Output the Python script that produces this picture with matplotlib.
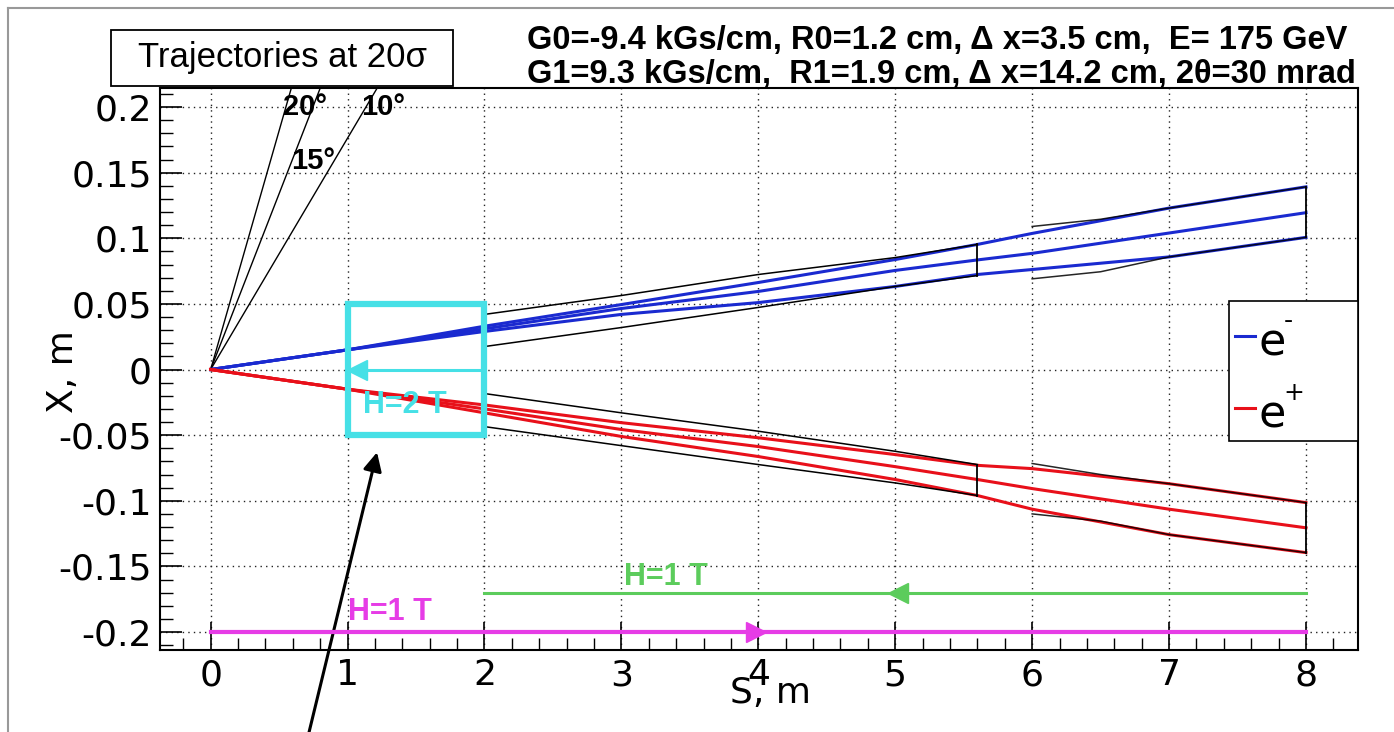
import numpy as np
import matplotlib.pyplot as plt
from matplotlib.patches import Rectangle
from matplotlib.lines import Line2D
from matplotlib.ticker import MultipleLocator

W, H = 1394, 732

# trajectories (S in m, X in m)
s_traj = [0, 1, 2, 3, 4, 5, 5.6, 6, 7, 8]
em_top = [0, 0.015, 0.033, 0.0495, 0.0663, 0.0838, 0.0953, 0.1037, 0.123, 0.1392]
em_mid = [0, 0.015, 0.031, 0.0465, 0.0595, 0.0755, 0.0835, 0.0885, 0.104, 0.1195]
em_bot = [0, 0.015, 0.029, 0.042, 0.051, 0.0633, 0.0724, 0.0762, 0.0858, 0.1007]
ep_top = [0, -0.015, -0.027, -0.0405, -0.052, -0.0648, -0.073, -0.0755, -0.087, -0.1014]
ep_mid = [0, -0.015, -0.030, -0.0457, -0.0587, -0.074, -0.0838, -0.0907, -0.1064, -0.1206]
ep_bot = [0, -0.015, -0.033, -0.051, -0.0663, -0.0838, -0.096, -0.1064, -0.1258, -0.1395]

# aperture envelopes (black)
env_s1 = [2, 3, 4, 5, 5.6]
env_s2 = [6, 6.5, 7, 8]
em_env1_hi = [0.042, 0.0564, 0.0724, 0.0853, 0.0953]
em_env1_lo = [0.0175, 0.032, 0.0473, 0.0633, 0.0716]
em_env2_hi = [0.109, 0.1145, 0.123, 0.1392]
em_env2_lo = [0.0691, 0.0745, 0.0858, 0.1007]
ep_env1_hi = [-0.0183, -0.033, -0.047, -0.0623, -0.0724]
ep_env1_lo = [-0.0435, -0.058, -0.0724, -0.0864, -0.096]
ep_env2_hi = [-0.0716, -0.080, -0.087, -0.1014]
ep_env2_lo = [-0.110, -0.1155, -0.1258, -0.1395]

angles = [20, 15, 10]
angle_labels = ["20°", "15°", "10°"]

# field regions
h2_s = [1, 2]
h2_x = [-0.05, 0.05]
h1_green_s = [2, 8]
h1_green_x = -0.17
h1_mag_s = [0, 8]
h1_mag_x = -0.2

xticks = [0, 1, 2, 3, 4, 5, 6, 7, 8]
yticks = [-0.2, -0.15, -0.1, -0.05, 0, 0.05, 0.1, 0.15, 0.2]
ytick_labels = ["-0.2", "-0.15", "-0.1", "-0.05", "0", "0.05", "0.1", "0.15", "0.2"]

blue = "#1a2ad0"
red = "#e8101a"
cyan = "#46e0e6"
green = "#5ccc5c"
magenta = "#e63ce6"

fig = plt.figure(figsize=(W / 100, H / 100), dpi=100)
ax = fig.add_axes([160 / W, 1 - 650 / H, 1198 / W, 562 / H])
ax.set_xlim(-0.37, 8.38)
ax.set_ylim(-0.2137, 0.2145)

tick_font = "DejaVu Sans"
ax.set_xticks(xticks)
ax.set_xticklabels([str(t) for t in xticks], fontsize=26, family=tick_font)
ax.set_yticks(yticks)
ax.set_yticklabels(ytick_labels, fontsize=26, family=tick_font)
ax.xaxis.set_minor_locator(MultipleLocator(0.2))
ax.yaxis.set_minor_locator(MultipleLocator(0.01))
ax.tick_params(axis="x", which="major", length=20)
ax.tick_params(axis="y", which="major", length=16)
ax.tick_params(which="major", direction="in", width=1.2, top=False, right=False, pad=6)
ax.tick_params(which="minor", direction="in", length=9, width=1.0, top=False, right=False)
for sp in ax.spines.values():
    sp.set_linewidth(1.5)
ax.grid(True, which="major", ls=(0, (1, 3)), color="#222222", lw=1.0)

# angle lines
for a in angles:
    xs = np.array([0, 1.5])
    ax.plot(xs, np.tan(np.radians(a)) * xs, color="k", lw=1.0, zorder=3)
lab_font = dict(fontsize=21, weight="bold", ha="left", va="center", family="Liberation Sans")
ax.text(0.53, 0.2, angle_labels[0], **lab_font)
ax.text(0.59, 0.1585, angle_labels[1], **lab_font)
ax.text(1.10, 0.2, angle_labels[2], **lab_font)

# trajectories
for y in (em_top, em_mid, em_bot):
    ax.plot(s_traj, y, color=blue, lw=2.2, zorder=4)
for y in (ep_top, ep_mid, ep_bot):
    ax.plot(s_traj, y, color=red, lw=2.2, zorder=4)

# envelopes
for hi, lo in ((em_env1_hi, em_env1_lo), (ep_env1_hi, ep_env1_lo)):
    ax.plot(env_s1, hi, color="k", lw=1.1, zorder=5)
    ax.plot(env_s1, lo, color="k", lw=1.1, zorder=5)
    ax.plot([env_s1[-1]] * 2, [hi[-1], lo[-1]], color="k", lw=1.3, zorder=5)
for hi, lo in ((em_env2_hi, em_env2_lo), (ep_env2_hi, ep_env2_lo)):
    ax.plot(env_s2, hi, color="k", lw=1.1, zorder=5, alpha=0.85)
    ax.plot(env_s2, lo, color="k", lw=1.1, zorder=5, alpha=0.85)
    ax.plot([env_s2[-1]] * 2, [hi[-1], lo[-1]], color="k", lw=1.3, zorder=5)

# H=2 T region
ax.add_patch(Rectangle((h2_s[0], h2_x[0]), h2_s[1] - h2_s[0], h2_x[1] - h2_x[0],
                       fill=False, ec=cyan, lw=4.5, zorder=6))
ax.plot(h2_s, [0, 0], color=cyan, lw=2.2, zorder=6)
ax.plot([1.07], [0], marker="<", ms=14, color=cyan, zorder=6)
field_font = dict(fontsize=22, weight="bold", ha="left", va="center", family="Liberation Sans", zorder=7)
ax.text(1.11, -0.027, "H=2 T", color=cyan, **field_font)

# H=1 T regions
ax.plot(h1_green_s, [h1_green_x] * 2, color=green, lw=2.2, zorder=6)
ax.plot([5.02], [h1_green_x], marker="<", ms=14, color=green, zorder=6)
ax.text(3.02, -0.158, "H=1 T", color=green, **field_font)
ax.plot(h1_mag_s, [h1_mag_x] * 2, color=magenta, lw=3.0, zorder=6)
ax.plot([3.98], [h1_mag_x], marker=">", ms=14, color=magenta, zorder=6)
ax.text(1.0, -0.185, "H=1 T", color=magenta, **field_font)

# pointer arrow
ax.annotate("", xy=(1.22, -0.061), xytext=(0.71, -0.28),
            arrowprops=dict(arrowstyle="-|>", color="k", lw=2.2, mutation_scale=28),
            annotation_clip=False)

# legend box
ax.add_patch(Rectangle((0.892, 0.372), 0.108, 0.249, transform=ax.transAxes,
                       fc="white", ec="k", lw=1.2, zorder=8))
ax.plot([0.897, 0.914], [0.559, 0.559], color=blue, lw=2.2, transform=ax.transAxes, zorder=9)
ax.plot([0.897, 0.914], [0.431, 0.431], color=red, lw=2.2, transform=ax.transAxes, zorder=9)
ax.text(0.917, 0.546, "e", fontsize=32, transform=ax.transAxes, ha="left", va="center",
        zorder=9, family=tick_font)
ax.text(0.938, 0.585, "-", fontsize=18, transform=ax.transAxes, ha="left", va="center",
        zorder=9, family=tick_font)
ax.text(0.917, 0.418, "e", fontsize=32, transform=ax.transAxes, ha="left", va="center",
        zorder=9, family=tick_font)
ax.text(0.938, 0.458, "+", fontsize=18, transform=ax.transAxes, ha="left", va="center",
        zorder=9, family=tick_font)

# axis titles
fig.text(770 / W, 1 - 693 / H, "S, m", fontsize=26, ha="center", va="center", family=tick_font)
fig.text(63 / W, 1 - 372 / H, "X, m", fontsize=26, ha="center", va="center", rotation=90, family=tick_font)

# header
hdr_font = dict(fontsize=23.5, weight="bold", ha="left", va="center", family="Liberation Sans")
fig.text(527 / W, 1 - 41 / H, "G0=-9.4 kGs/cm, R0=1.2 cm, \u0394 x=3.5 cm,  E= 175 GeV", **hdr_font)
fig.text(527 / W, 1 - 75 / H, "G1=9.3 kGs/cm,  R1=1.9 cm, \u0394 x=14.2 cm, 2\u03b8=30 mrad", **hdr_font)

# title box
fig.add_artist(Rectangle((111 / W, 1 - 86 / H), 342 / W, 56 / H, transform=fig.transFigure,
                         fill=False, ec="k", lw=1.3))
fig.text(282 / W, 1 - 58 / H, "Trajectories at 20\u03c3", fontsize=25, ha="center", va="center",
         family=["Liberation Sans Narrow", "Liberation Sans"])

# outer frame
fig.add_artist(Line2D([8 / W, 1], [1 - 8 / H] * 2, transform=fig.transFigure, color="#999999", lw=1.5))
fig.add_artist(Line2D([8 / W] * 2, [0, 1 - 8 / H], transform=fig.transFigure, color="#999999", lw=1.5))

fig.savefig("out.png", dpi=100)
